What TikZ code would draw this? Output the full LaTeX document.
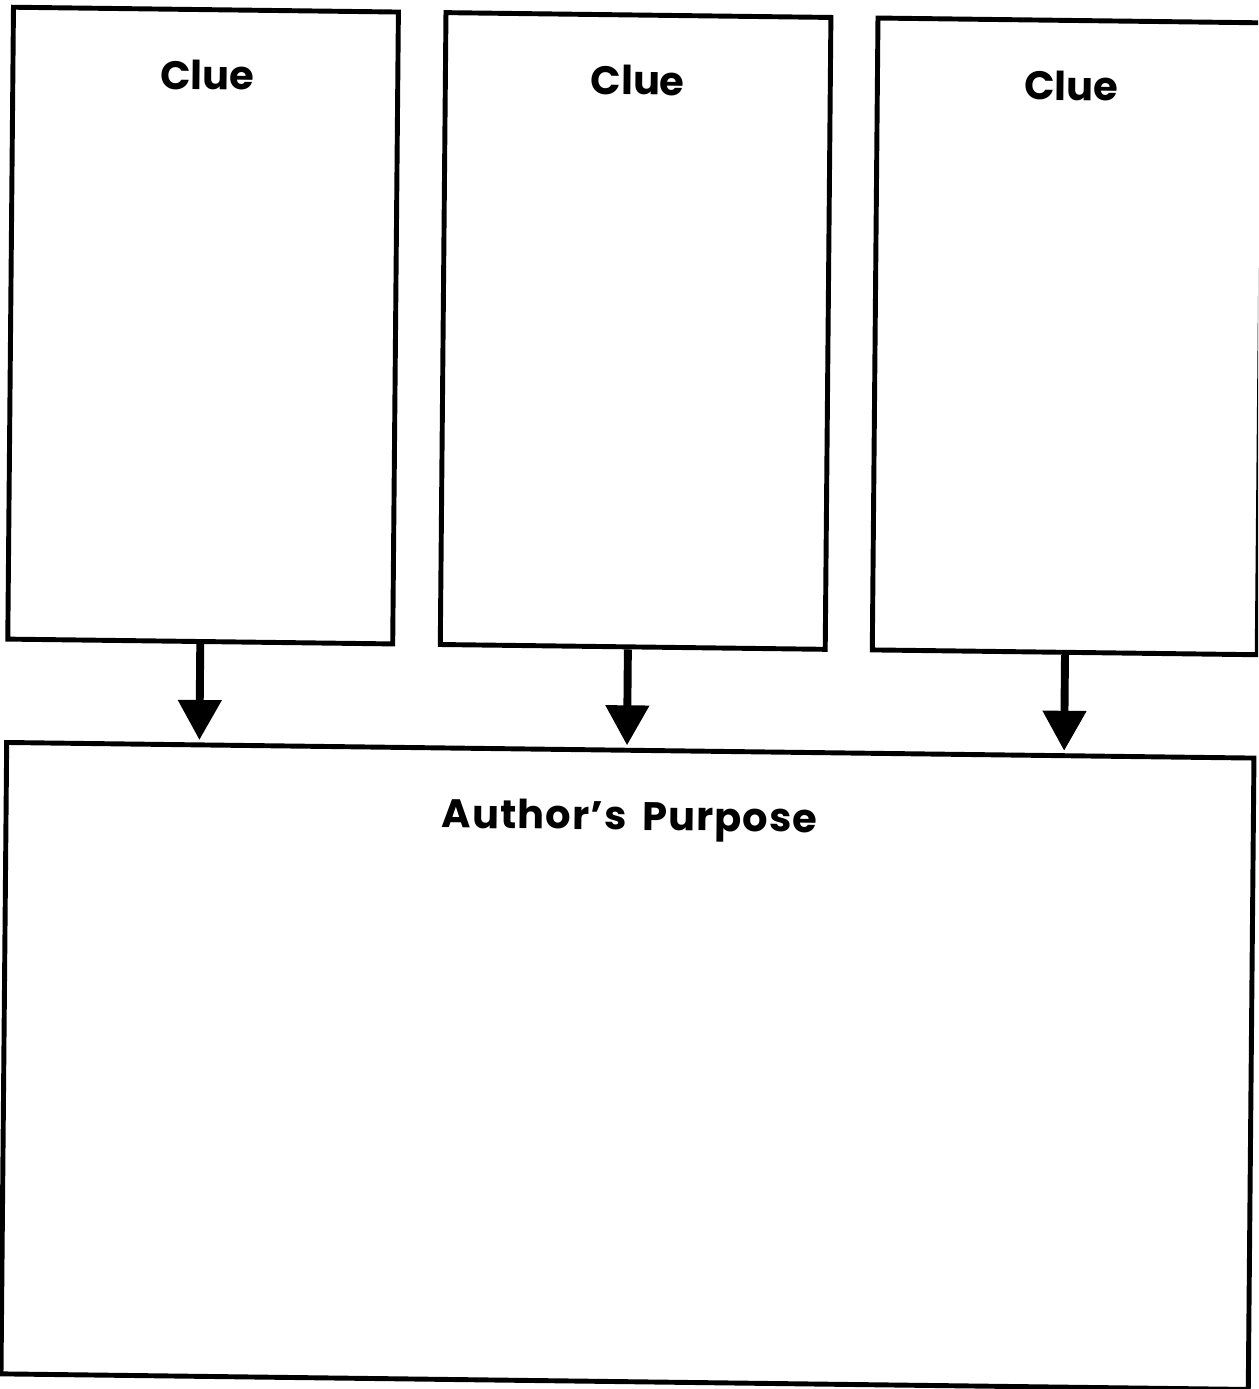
\documentclass[tikz,border=0pt]{standalone}
\usepackage{fontspec}
\setmainfont{Poppins}
\newfontfamily\purposefont{Poppins}[LetterSpace=3, WordSpace=1.6]
\usetikzlibrary{arrows.meta}

\begin{document}
\begin{tikzpicture}[x=0.02cm, y=-0.02cm,
    cluebox/.style={draw, line width=2.8pt, inner sep=0pt,
      minimum width=7.7cm, minimum height=12.64cm},
    purposebox/.style={draw, line width=2.8pt, inner sep=0pt,
      minimum width=24.95cm, minimum height=12.63cm},
    heading/.style={anchor=base, inner sep=0pt,
      font=\fontsize{22.7}{27}\selectfont\bfseries},
    purposeheading/.style={heading,
      font=\purposefont\fontsize{22.7}{27}\selectfont\bfseries},
    downarrow/.style={line width=4.5pt, shorten >=1.5pt,
      -{Triangle[width=0.84cm, length=0.8cm]}}]
  \useasboundingbox (0,0) rectangle (1258,1389);
  \clip (0,0) rectangle (1258,1389);

  \begin{scope}[cm={1,-0.0125,0.009,1,(0,0)}, transform shape]
  \node[cluebox] (c1) at (206,323) {};
  \node[cluebox] (c2) at (638.5,323) {};
  \node[cluebox] (c3) at (1070.5,323) {};
  \node[purposebox] (purpose) at (637,1058) {};

  \node[heading] (t1) at (208,87) {Clue};
  \node[heading] (t2) at (638.5,87) {Clue};
  \node[heading] (t3) at (1072,87) {Clue};
  \node[purposeheading] (t4) at (637,822) {Author’s Purpose};

  \draw[downarrow] (c1.south) -- (c1.south |- purpose.north);
  \draw[downarrow] ([xshift=-0.1cm]c2.south) -- ([xshift=-0.1cm]c2.south |- purpose.north);
  \draw[downarrow] (c3.south) -- (c3.south |- purpose.north);
  \end{scope}
\end{tikzpicture}
\end{document}
